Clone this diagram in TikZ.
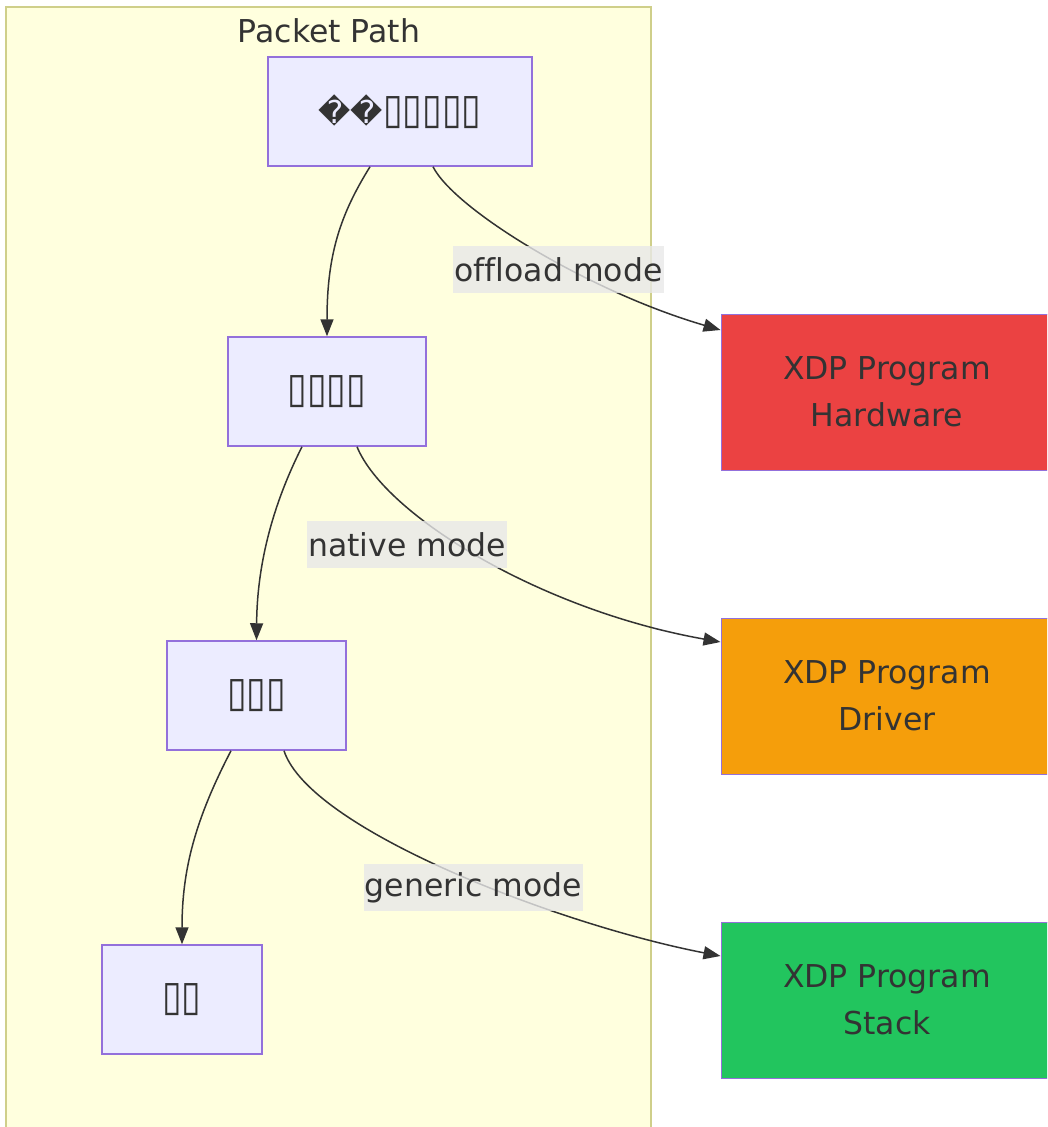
\documentclass[tikz,border=0pt]{standalone}
\usepackage{fontspec}
\setmainfont{DejaVu Sans}[Ligatures=NoCommon]
\newfontfamily\tofufont{DejaVu Sans}[FakeStretch=0.85]
\usepackage{tikz}
\usetikzlibrary{arrows.meta}

\definecolor{pathbg}{HTML}{FFFFDE}
\definecolor{pathline}{HTML}{CFCF8A}
\definecolor{nodefill}{HTML}{ECECFF}
\definecolor{nodeline}{HTML}{9370DB}
\definecolor{ink}{HTML}{333333}
\definecolor{labelbg}{HTML}{E8E8E8}
\definecolor{hwred}{HTML}{EB4242}
\definecolor{drvorange}{HTML}{F59E0B}
\definecolor{gengreen}{HTML}{22C55E}

\newcommand{\mfont}{\fontsize{31.5}{47}\selectfont}
\newcommand{\tofu}[1]{{\tofufont\fontsize{42}{47}\selectfont #1}}

\tikzset{
  stepnode/.style={draw=nodeline, fill=nodefill, line width=1.5pt, minimum height=109pt,
    inner sep=0pt, text=ink, font=\mfont},
  xdpbox/.style={draw=nodeline, line width=1pt, minimum width=332pt, minimum height=156pt,
    inner sep=0pt, align=center, text=ink, font=\mfont},
  modelabel/.style={fill=labelbg, fill opacity=0.8, text opacity=1, inner xsep=1pt,
    inner ysep=0pt, minimum height=47pt, text=ink, font=\mfont},
  flow/.style={draw=ink, line width=1.5pt, -{Triangle[length=17pt,width=13pt]}}
}

\begin{document}
\begin{tikzpicture}[x=1pt, y=-1pt]
            \useasboundingbox (0,0) rectangle (1047,1127);
            \clip (0,0) rectangle (1047,1127);
            % packet path group
            \draw[draw=pathline, fill=pathbg, line width=2pt] (6,7) rectangle (651,1145);
            \node[text=ink, font=\mfont] (pathtitle) at (329,31) {Packet Path};

            \node[stepnode, minimum width=264pt] (arrive) at (400,111.5) {��\tofu{▯▯▯▯▯}};
            \node[stepnode, minimum width=198pt] (nic) at (327,391.5) {\tofu{▯▯▯▯}};
            \node[stepnode, minimum width=179pt] (stack) at (256.5,695.5) {\tofu{▯▯▯}};
            \node[stepnode, minimum width=160pt] (app) at (182,999.5) {\tofu{▯▯}};

            \node[xdpbox, fill=hwred] (xdphw) at (887,392) {XDP Program\\Hardware};
            \node[xdpbox, fill=drvorange] (xdpdrv) at (887,696) {XDP Program\\Driver};
            \node[xdpbox, fill=gengreen] (xdpgen) at (887,1000) {XDP Program\\Stack};

            % main path
            \draw[flow] ([xshift=-30pt]arrive.south) .. controls (340,215) and (327,255) .. (nic.north);
            \draw[flow] ([xshift=-25pt]nic.south) .. controls (270,510) and (257,570) .. (stack.north);
            \draw[flow] ([xshift=-25.5pt]stack.south) .. controls (195,820) and (182,870) .. (app.north);

            % xdp hooks
            \draw[flow] ([xshift=33pt]arrive.south) .. controls (455,210) and (590,292) .. ([yshift=62pt]xdphw.west);
            \draw[flow] ([xshift=30pt]nic.south) .. controls (385,515) and (540,610) .. ([yshift=54pt]xdpdrv.west);
            \draw[flow] ([xshift=27.5pt]stack.south) .. controls (310,830) and (560,925) .. ([yshift=44pt]xdpgen.west);

            \node[modelabel] (offload) at (558.5,269.5) {offload mode};
            \node[modelabel] (native) at (407,544.5) {native mode};
            \node[modelabel] (generic) at (473.5,887.5) {generic mode};
        \end{tikzpicture}
\end{document}
